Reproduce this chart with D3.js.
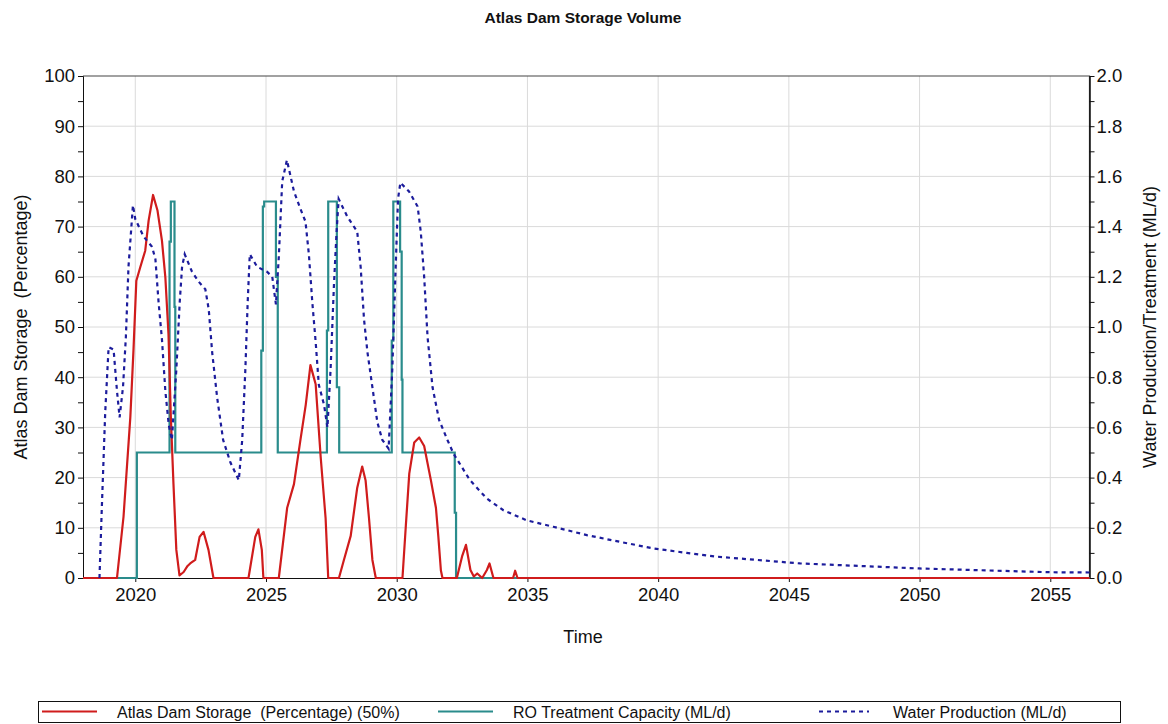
<!DOCTYPE html>
<html>
<head>
<meta charset="utf-8">
<script src="https://cdn.jsdelivr.net/npm/d3@7"></script>
<style>
  body { margin: 0; background: #fff; }
  svg { font-family: "Liberation Sans", Arial, sans-serif; }
  text { white-space: pre; }
</style>
</head>
<body>
<svg id="chart" width="1168" height="724"></svg>
<script>
/* Data */
var yearTicks = [2020, 2025, 2030, 2035, 2040, 2045, 2050, 2055];
var storageTicks = [0, 10, 20, 30, 40, 50, 60, 70, 80, 90, 100];
var flowTicks = [0, 0.2, 0.4, 0.6, 0.8, 1.0, 1.2, 1.4, 1.6, 1.8, 2.0];

// Atlas Dam Storage (%) [year, value]
var storage = [
  [2018, 0], [2019.3, 0], [2019.55, 12.2], [2019.81, 32], [2019.93, 45.3], [2020.04, 59.2],
  [2020.19, 61.9], [2020.38, 65.2], [2020.51, 71.2], [2020.68, 76.3], [2020.85, 73.2],
  [2021.02, 67.2], [2021.15, 59.9], [2021.27, 48.6], [2021.36, 32.1], [2021.46, 18.8],
  [2021.57, 5.6], [2021.69, 0.5], [2021.85, 1.2], [2022.0, 2.4], [2022.1, 2.9], [2022.29, 3.6],
  [2022.46, 8.2], [2022.61, 9.2], [2022.8, 5.6], [2022.99, 0],
  [2024.33, 0], [2024.59, 8.2], [2024.71, 9.7], [2024.84, 5.6], [2024.9, 0],
  [2025.49, 0], [2025.81, 14], [2026.07, 18.7], [2026.32, 27.6], [2026.52, 34.5], [2026.7, 42.4],
  [2026.9, 38.6], [2027.09, 24.2], [2027.28, 11.9], [2027.38, 0],
  [2027.79, 0], [2027.98, 3.6], [2028.24, 8.4], [2028.49, 18], [2028.68, 22.2], [2028.81, 19.4],
  [2028.94, 11.9], [2029.07, 3.6], [2029.2, 0],
  [2030.22, 0], [2030.35, 10.5], [2030.48, 20.8], [2030.67, 27], [2030.86, 28], [2031.05, 26.3],
  [2031.31, 19.4], [2031.5, 14], [2031.59, 8.4], [2031.69, 1.5], [2031.75, 0],
  [2032.3, 0], [2032.5, 4.3], [2032.65, 6.6], [2032.82, 1.6], [2032.95, 0.3], [2033.08, 0.9],
  [2033.27, 0], [2033.45, 1.6], [2033.55, 2.9], [2033.7, 0],
  [2034.45, 0], [2034.53, 1.45], [2034.62, 0], [2056.5, 0]
];

// RO Treatment Capacity (ML/d), value holds from its year onward
var roCapacity = [
  [2018, 0], [2020.06, 0.5], [2021.31, 1.34], [2021.36, 1.5], [2021.5, 1.08], [2021.53, 0.5],
  [2024.82, 0.906], [2024.88, 1.48], [2024.93, 1.5], [2025.38, 1.2], [2025.45, 0.5],
  [2027.33, 0.986], [2027.38, 1.5], [2027.71, 0.76], [2027.8, 0.5],
  [2029.81, 0.946], [2029.87, 1.5], [2030.13, 1.3], [2030.19, 0.79], [2030.22, 0.5],
  [2032.22, 0.26], [2032.27, 0], [2056.5, 0]
];

// Water Production (ML/d)
var production = [
  [2018.63, 0], [2018.72, 0.28], [2018.85, 0.66], [2018.98, 0.92], [2019.17, 0.91],
  [2019.3, 0.745], [2019.4, 0.64], [2019.53, 0.76], [2019.64, 0.96], [2019.74, 1.24],
  [2019.91, 1.485], [2020.0, 1.43], [2020.32, 1.36], [2020.64, 1.32], [2020.77, 1.27],
  [2020.89, 1.10], [2021.02, 0.95], [2021.15, 0.745], [2021.28, 0.61], [2021.4, 0.55],
  [2021.57, 0.83], [2021.7, 1.10], [2021.79, 1.24], [2021.89, 1.29], [2022.17, 1.22],
  [2022.43, 1.18], [2022.68, 1.15], [2022.81, 1.07], [2022.94, 0.90], [2023.13, 0.72],
  [2023.36, 0.55], [2023.64, 0.46], [2023.96, 0.39], [2024.09, 0.55], [2024.21, 0.83],
  [2024.3, 1.10], [2024.38, 1.29], [2024.66, 1.24], [2025.04, 1.22], [2025.24, 1.20],
  [2025.38, 1.09], [2025.49, 1.28], [2025.62, 1.58], [2025.8, 1.665], [2026.07, 1.54],
  [2026.32, 1.47], [2026.51, 1.42], [2026.64, 1.29], [2026.77, 1.10], [2026.9, 0.94],
  [2027.02, 0.77], [2027.22, 0.69], [2027.35, 0.60], [2027.47, 0.83], [2027.6, 1.17],
  [2027.7, 1.38], [2027.78, 1.51], [2028.11, 1.44], [2028.49, 1.38], [2028.62, 1.24],
  [2028.75, 1.03], [2028.88, 0.90], [2029.07, 0.76], [2029.26, 0.62], [2029.45, 0.55],
  [2029.69, 0.515], [2029.83, 0.83], [2029.96, 1.24], [2030.05, 1.51], [2030.14, 1.575],
  [2030.47, 1.54], [2030.8, 1.48], [2030.92, 1.38], [2031.05, 1.20], [2031.18, 0.96],
  [2031.37, 0.76], [2031.62, 0.63], [2031.94, 0.55], [2032.17, 0.496], [2032.8, 0.39],
  [2033.44, 0.317], [2034.08, 0.27], [2034.97, 0.23], [2035.99, 0.204], [2037.27, 0.171],
  [2038.54, 0.144], [2039.81, 0.118], [2041.09, 0.10], [2042.24, 0.085], [2045.43, 0.058],
  [2049.98, 0.038], [2054.98, 0.023], [2056.5, 0.022]
];

var legendItems = [
  { label: "Atlas Dam Storage  (Percentage) (50%)", color: "#d01c1c", dash: null, x: 42 },
  { label: "RO Treatment Capacity (ML/d)", color: "#2a8c8c", dash: null, x: 438 },
  { label: "Water Production (ML/d)", color: "#1c1c9c", dash: "4,4", x: 819 }
];

/* Layout */
var plotL = 83, plotR = 1089.5, plotT = 76, plotB = 578;

var svg = d3.select("svg#chart");

var x = d3.scaleLinear().domain([2018, 2056.5]).range([plotL, plotR]);
var yL = d3.scaleLinear().domain([0, 100]).range([plotB, plotT]);
var yR = d3.scaleLinear().domain([0, 2]).range([plotB, plotT]);

// grid
svg.append("g")
  .selectAll("line")
  .data(yearTicks)
  .enter()
  .append("line")
  .attr("x1", d => x(d)).attr("x2", d => x(d))
  .attr("y1", plotT).attr("y2", plotB)
  .attr("stroke", "#dadada").attr("stroke-width", 1);

svg.append("g")
  .selectAll("line")
  .data(storageTicks.slice(1, -1))
  .enter()
  .append("line")
  .attr("x1", plotL).attr("x2", plotR)
  .attr("y1", d => yL(d)).attr("y2", d => yL(d))
  .attr("stroke", "#dadada").attr("stroke-width", 1);

// frame (top + right)
svg.append("path")
  .attr("d", `M${plotL},${plotT}H${plotR}V${plotB}`)
  .attr("fill", "none").attr("stroke", "#444").attr("stroke-width", 1.2);

// axes
svg.append("g")
  .attr("transform", `translate(0,${plotB})`)
  .call(d3.axisBottom(x).tickValues(yearTicks).tickFormat(d3.format("d")).tickSize(4).tickSizeOuter(0).tickPadding(6));

svg.append("g")
  .attr("transform", `translate(${plotL},0)`)
  .call(d3.axisLeft(yL).tickValues(storageTicks).tickSize(5).tickSizeOuter(0).tickPadding(3));

svg.append("g")
  .attr("transform", `translate(${plotL},0)`)
  .call(d3.axisLeft(yL).tickValues(d3.range(5, 100, 10)).tickSize(5).tickSizeOuter(0).tickFormat(""));

svg.append("g")
  .attr("transform", `translate(${plotR},0)`)
  .call(d3.axisRight(yR).tickValues(flowTicks).tickFormat(d3.format(".1f")).tickSize(5).tickSizeOuter(0).tickPadding(2));

svg.append("g")
  .attr("transform", `translate(${plotR},0)`)
  .call(d3.axisRight(yR).tickValues(d3.range(0.1, 2, 0.2)).tickSize(5).tickSizeOuter(0).tickFormat(""));

svg.selectAll(".domain").attr("stroke", "#111");
svg.selectAll(".tick line").attr("stroke", "#111");
svg.selectAll(".tick text")
  .attr("font-size", 18.5)
  .attr("font-family", "Liberation Sans, Arial, sans-serif")
  .attr("fill", "#111");

// series (drawn over the axes, as in the reference)
var lineL = d3.line().x(d => x(d[0])).y(d => yL(d[1]));
var lineR = d3.line().x(d => x(d[0])).y(d => yR(d[1]));
var stepR = d3.line().x(d => x(d[0])).y(d => yR(d[1])).curve(d3.curveStepAfter);

svg.append("path")
  .datum(roCapacity)
  .attr("d", stepR)
  .attr("fill", "none").attr("stroke", legendItems[1].color).attr("stroke-width", 2.2);

svg.append("path")
  .datum(storage)
  .attr("d", lineL)
  .attr("fill", "none").attr("stroke", legendItems[0].color).attr("stroke-width", 2.2)
  .attr("stroke-linejoin", "round");

svg.append("path")
  .datum(production)
  .attr("d", lineR)
  .attr("fill", "none").attr("stroke", legendItems[2].color).attr("stroke-width", 2.2)
  .attr("stroke-dasharray", legendItems[2].dash);

// titles
svg.append("text")
  .attr("x", 583).attr("y", 23)
  .attr("text-anchor", "middle")
  .attr("font-size", 15.5).attr("font-weight", "bold")
  .attr("fill", "#111")
  .text("Atlas Dam Storage Volume");

svg.append("text")
  .attr("x", 583).attr("y", 643)
  .attr("text-anchor", "middle")
  .attr("font-size", 18).attr("fill", "#111")
  .text("Time");

svg.append("text")
  .attr("transform", "translate(27,327) rotate(-90)")
  .attr("text-anchor", "middle")
  .attr("font-size", 18).attr("fill", "#111")
  .text("Atlas Dam Storage  (Percentage)");

svg.append("text")
  .attr("transform", "translate(1156,327) rotate(-90)")
  .attr("text-anchor", "middle")
  .attr("font-size", 18).attr("fill", "#111")
  .text("Water Production/Treatment (ML/d)");

// legend
svg.append("rect")
  .attr("x", 38.5).attr("y", 701.5)
  .attr("width", 1082).attr("height", 21)
  .attr("fill", "none").attr("stroke", "#111").attr("stroke-width", 1);

var legend = svg.append("g")
  .selectAll("g")
  .data(legendItems)
  .enter()
  .append("g");

legend.append("line")
  .attr("x1", d => d.x).attr("x2", d => d.x + (d.dash ? 50 : 55))
  .attr("y1", 711.5).attr("y2", 711.5)
  .attr("stroke", d => d.color).attr("stroke-width", 2.2)
  .attr("stroke-dasharray", d => d.dash);

legend.append("text")
  .attr("x", d => d.x + (d.dash ? 74 : 75)).attr("y", 717.5)
  .attr("font-size", 16).attr("fill", "#111")
  .text(d => d.label);
</script>
</body>
</html>
